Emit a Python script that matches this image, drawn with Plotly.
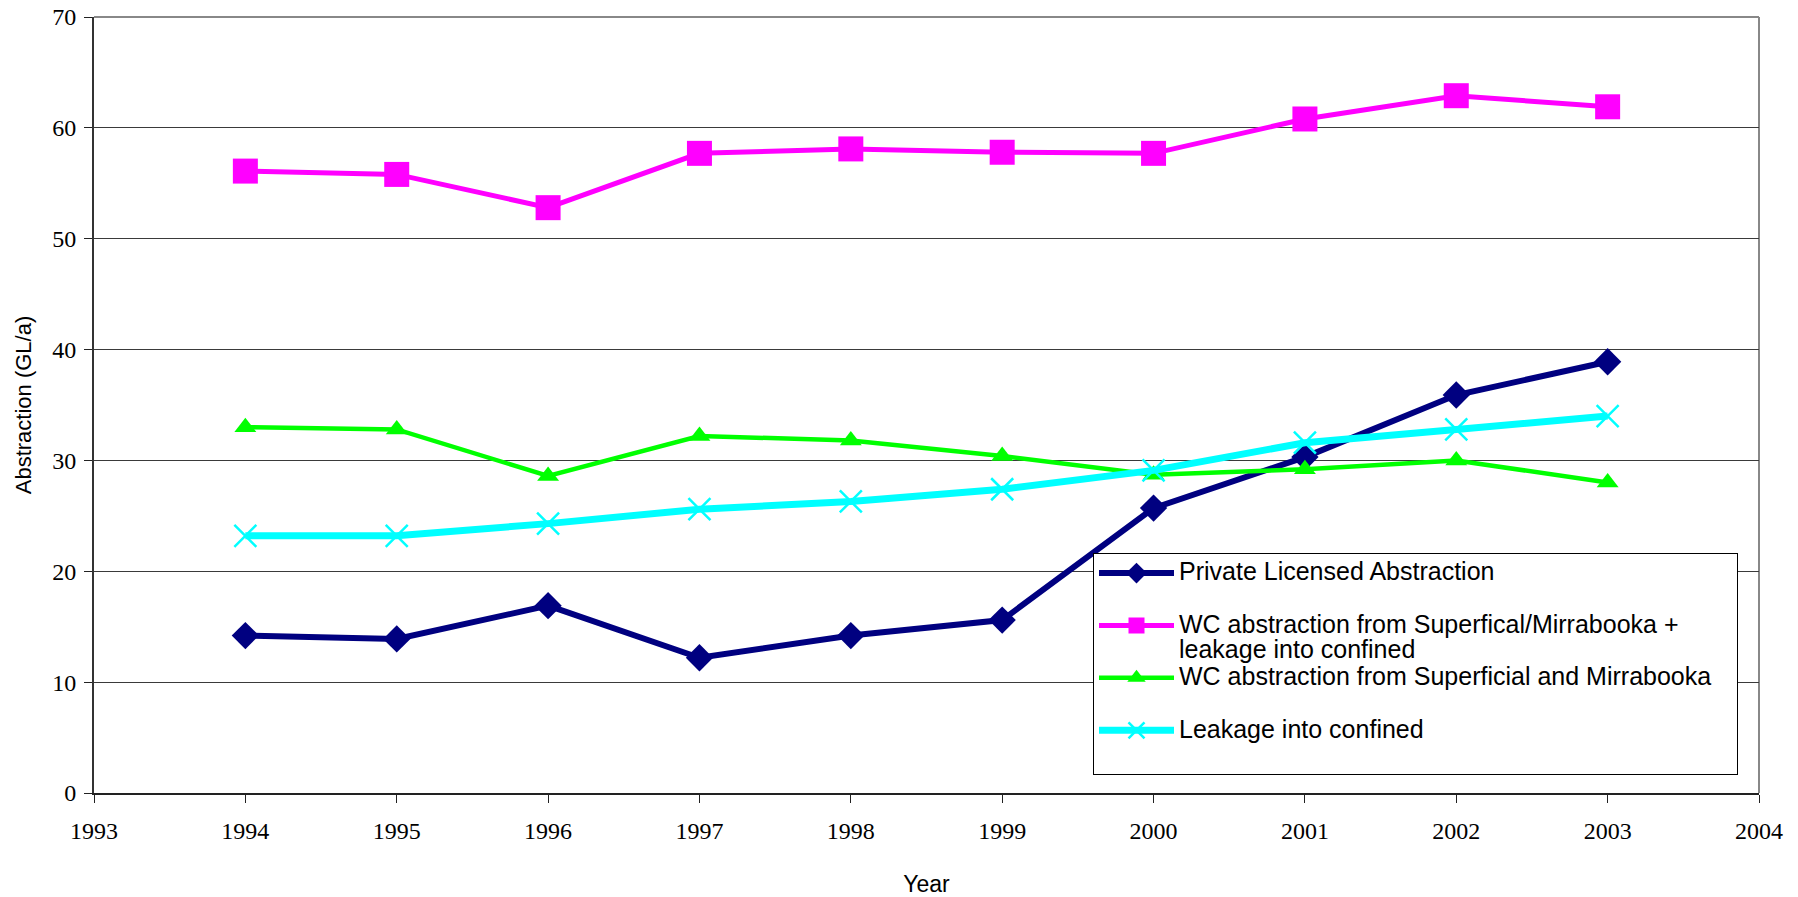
import plotly.graph_objects as go

years = [1994, 1995, 1996, 1997, 1998, 1999, 2000, 2001, 2002, 2003]

private_licensed = [14.2, 13.9, 16.9, 12.2, 14.2, 15.6, 25.7, 30.3, 35.9, 38.9]
wc_plus_leakage = [56.1, 55.8, 52.8, 57.7, 58.1, 57.8, 57.7, 60.8, 62.9, 61.9]
wc_superficial = [33.0, 32.8, 28.6, 32.2, 31.8, 30.4, 28.7, 29.2, 30.0, 28.0]
leakage_confined = [23.2, 23.2, 24.3, 25.6, 26.3, 27.4, 29.1, 31.6, 32.8, 34.0]

series_labels = [
    ["Private Licensed Abstraction", " "],
    ["WC abstraction from Superfical/Mirrabooka +", "leakage into confined"],
    ["WC abstraction from Superficial and Mirrabooka&nbsp;&nbsp;&nbsp;", " "],
    ["Leakage into confined", " "],
]

x_ticks = list(range(1993, 2005))
y_ticks = list(range(0, 71, 10))


def legend_label(lines):
    # two-line legend entries: glyphs a little larger than the line pitch
    return "<br>".join('<span style="font-size:25px">%s</span>' % s for s in lines)


fig = go.Figure()

fig.add_trace(go.Scatter(
    x=years, y=private_licensed, name=legend_label(series_labels[0]), mode="lines+markers",
    line=dict(color="#000080", width=6),
    marker=dict(symbol="diamond", size=21, color="#000080"),
))
fig.add_trace(go.Scatter(
    x=years, y=wc_plus_leakage, name=legend_label(series_labels[1]), mode="lines+markers",
    line=dict(color="#FF00FF", width=5),
    marker=dict(symbol="square", size=25, color="#FF00FF"),
))
fig.add_trace(go.Scatter(
    x=years, y=wc_superficial, name=legend_label(series_labels[2]), mode="lines+markers",
    line=dict(color="#00FF00", width=4.5),
    marker=dict(symbol="triangle-up", size=19, color="#00FF00"),
))
fig.add_trace(go.Scatter(
    x=years, y=leakage_confined, name=legend_label(series_labels[3]), mode="lines+markers",
    line=dict(color="#00FFFF", width=7),
    marker=dict(symbol="x-thin", size=22, color="#00FFFF",
                line=dict(color="#00FFFF", width=2.5)),
))

fig.update_layout(
    width=1798, height=897,
    autosize=False,
    paper_bgcolor="white",
    plot_bgcolor="white",
    margin=dict(l=94, r=39, t=17, b=104, autoexpand=False),
    showlegend=True,
    legend=dict(
        x=0.600, y=0.309, xanchor="left", yanchor="top",
        bgcolor="white", bordercolor="#000000", borderwidth=1,
        font=dict(family="Liberation Sans, Arial", size=19, color="black"),
        valign="top",
        itemwidth=75,
    ),
    xaxis=dict(
        range=[1993, 2004],
        automargin=False,
        tickmode="array", tickvals=x_ticks, ticktext=[str(v) for v in x_ticks],
        ticks="outside", ticklen=8, tickcolor="#222", tickwidth=1,
        showline=True, linecolor="#222", linewidth=2,
        showgrid=False, zeroline=False,
        tickfont=dict(family="Liberation Serif, Times New Roman, serif", size=24, color="black"),
        ticklabelstandoff=7,
        title=dict(text="Year", standoff=37,
                   font=dict(family="Liberation Sans, Arial", size=23, color="black")),
    ),
    yaxis=dict(
        range=[0, 70],
        automargin=False,
        tickmode="array", tickvals=y_ticks, ticktext=[str(v) for v in y_ticks],
        ticks="outside", ticklen=8, tickcolor="#222", tickwidth=1,
        showline=True, linecolor="#333", linewidth=2,
        showgrid=True, gridcolor="#3a3a3a", gridwidth=1,
        zeroline=False,
        tickfont=dict(family="Liberation Serif, Times New Roman, serif", size=24, color="black"),
        ticklabelstandoff=3,
        title=dict(text="Abstraction (GL/a)", standoff=15,
                   font=dict(family="Liberation Sans, Arial", size=22, color="black")),
    ),
    shapes=[
        # plot-area frame on the top and right sides
        dict(type="line", xref="paper", yref="paper", x0=0, x1=1, y0=1, y1=1,
             line=dict(color="#888888", width=2), layer="below"),
        dict(type="line", xref="paper", yref="paper", x0=1, x1=1, y0=0, y1=1,
             line=dict(color="#888888", width=2), layer="below"),
    ],
)

fig.write_html("out.html")
